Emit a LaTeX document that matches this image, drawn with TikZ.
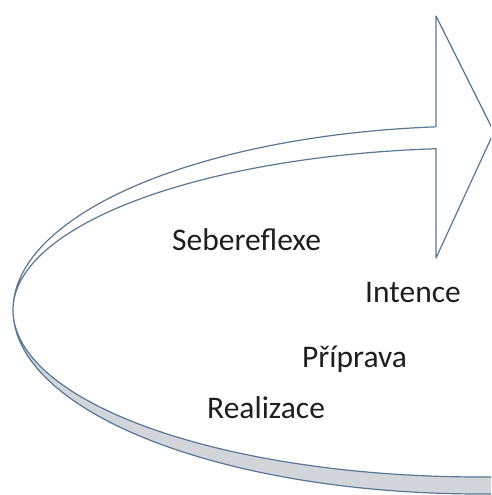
\documentclass[tikz,border=0pt]{standalone}
\usepackage{fontspec}
\setmainfont{Carlito}
\definecolor{edge}{HTML}{5A7896}
\definecolor{backside}{HTML}{D2D5DA}
\definecolor{txt}{HTML}{1E1E1E}
\tikzset{
  ribbon/.style={draw=edge, line width=1.2pt, fill=white, line join=round},
  backband/.style={draw=edge, line width=1.2pt, fill=backside, line join=round},
  label/.style={anchor=base west, inner sep=0pt, text=txt, font=\fontsize{31.5}{36}\selectfont}
}
\begin{document}
\begin{tikzpicture}[x=1pt,y=-1pt]
\useasboundingbox (0,0) rectangle (491,495);
\fill[white] (0,0) rectangle (491,495);
\begin{scope}
\clip (0,0) rectangle (491,495);
% back side of the ribbon (lower part)
\filldraw[backband]
  plot[domain=180:277, samples=90] ({480+467*cos(\x)},{310-184*sin(\x)})
  -- plot[domain=277:180, samples=90] ({480+467*cos(\x)},{310-167*sin(\x)})
  -- cycle;
% front side of the ribbon with the arrow head
\filldraw[ribbon]
  plot[domain=180:95.4, samples=90] ({480+467*cos(\x)},{310-184*sin(\x)})
  -- (436,16) -- (494,132) -- (436,258)
  -- plot[domain=95.4:180, samples=90] ({480+467*cos(\x)},{310-162*sin(\x)})
  -- cycle;
\end{scope}
\node[label] (sebe) at (172,250) {Sebereflexe};
\node[label] (inte) at (365,302) {Intence};
\node[label] (prip) at (302,367) {Příprava};
\node[label] (real) at (207,418) {Realizace};
\end{tikzpicture}
\end{document}
